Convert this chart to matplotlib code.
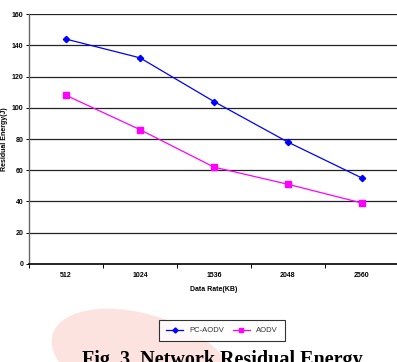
import matplotlib
matplotlib.use('Agg')
from matplotlib import pyplot as plt
from matplotlib.patches import Ellipse

# data
rates = ["512", "1024", "1536", "2048", "2560"]
pc_aodv = [144, 132, 104, 78, 55]
aodv = [108, 86, 62, 51, 39]
yticks = [0, 20, 40, 60, 80, 100, 120, 140, 160]

plt.rcParams['font.family'] = ['Liberation Sans', 'DejaVu Sans']

fig = plt.figure(figsize=(3.97, 3.62), dpi=100)
fig.patch.set_facecolor('white')

# faint watermark blob behind the legend/caption
blob = Ellipse((0.36, 0.0), 0.48, 0.26, angle=-20, transform=fig.transFigure,
               facecolor='#fde3df', edgecolor='none', zorder=0)
fig.patches.append(blob)

ax = fig.add_axes([0.073, 0.271, 0.932, 0.69])
x = range(len(rates))
ax.plot(x, pc_aodv, color='#0000ff', marker='D', markersize=3.2, lw=0.9, label='PC-AODV')
ax.plot(x, aodv, color='#ff00ff', marker='s', markersize=4, lw=0.9, label='AODV')

ax.set_xlim(-0.5, len(rates) - 0.5)
ax.set_ylim(0, 160)
ax.set_yticks(yticks)
ax.set_yticklabels([str(v) for v in yticks], fontsize=5, fontweight='bold')
ax.set_xticks(list(x))
ax.set_xticklabels(rates, fontsize=5, fontweight='bold')
ax.set_xticks([i - 0.5 for i in range(len(rates) + 1)], minor=True)
ax.tick_params(axis='x', which='major', length=0, pad=6)
ax.tick_params(axis='x', which='minor', length=3, width=0.7, direction='out')
ax.tick_params(axis='y', length=2, width=0.7, pad=2)

for v in yticks[1:]:
    ax.axhline(v, color='#222222', lw=0.9, zorder=1)

for s in ['top', 'right']:
    ax.spines[s].set_visible(False)
ax.spines['left'].set_linewidth(1)
ax.spines['left'].set_color('#666666')
ax.spines['bottom'].set_linewidth(1.2)

ax.set_xlabel("Data Rate(KB)", fontsize=5, fontweight='bold', labelpad=5)
ax.set_ylabel("Residual Energy(J)", fontsize=5, fontweight='bold', labelpad=3)

leg = fig.legend(loc='center', bbox_to_anchor=(0.559, 0.0865), ncol=2, fontsize=5.5,
                 frameon=True, fancybox=False, edgecolor='black', handlelength=2.2,
                 columnspacing=1.2, borderpad=0.9, markerscale=0.8)
leg.get_frame().set_linewidth(0.8)
for t in leg.get_texts():
    t.set_color('#333333')

# caption is cut by the bottom edge in the reference image
fig.text(0.56, 0.032, "Fig. 3. Network Residual Energy", ha='center', va='top',
         fontsize=14.5, fontweight='bold', family=['Liberation Serif', 'DejaVu Serif'])

fig.savefig("out.png", dpi=100)
